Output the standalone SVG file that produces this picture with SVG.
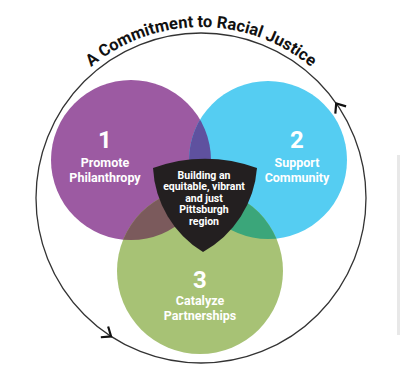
<svg xmlns="http://www.w3.org/2000/svg" width="400" height="378" viewBox="0 0 400 378">
<style>
.lbl{font-family:Roboto,"Open Sans","Liberation Sans",sans-serif;font-weight:700;fill:#fff;text-anchor:middle}
.num{font-size:24px}
.sub{font-size:12.5px}
.mid{font-size:10.5px}
.title{font-family:Roboto,"Open Sans","Liberation Sans",sans-serif;font-weight:700;font-size:16.5px;fill:#111}
.ring{fill:none;stroke:#333;stroke-width:1.3}
</style>
<defs>
<clipPath id="cP"><circle cx="131" cy="160" r="80"/></clipPath>
<clipPath id="cB"><circle cx="268" cy="160" r="79"/></clipPath>
<marker id="chev" markerUnits="userSpaceOnUse" markerWidth="16" markerHeight="16" viewBox="-10 -8 12 16" refX="0" refY="0" orient="auto" overflow="visible">
<path d="M-8,-6.5 L0,0 L-8,6.5" fill="none" stroke="#111" stroke-width="2.2"/>
</marker>
<path id="tp" d="M30,198 A171,171 0 0 1 372,198"/>
</defs>
<rect width="400" height="378" fill="#fff"/>
<rect x="397" y="155" width="3" height="180" fill="#e8e8e8"/>
<g id="connectors">
<circle class="ring" cx="201" cy="198" r="165"/>
<path d="M339.4,108.1 L336.2,103.4" fill="none" stroke="none" marker-end="url(#chev)"/>
<path d="M106.4,333.2 L111.1,336.4" fill="none" stroke="none" marker-end="url(#chev)"/>
</g>
<g id="title">
<text class="title"><textPath href="#tp" startOffset="50%" text-anchor="middle">A Commitment to Racial Justice</textPath></text>
</g>
<g id="node1"><circle cx="131" cy="160" r="80" fill="#9c5aa2"/></g>
<g id="node2"><circle cx="268" cy="160" r="79" fill="#55cdf2"/></g>
<g id="node3"><circle cx="200" cy="271" r="83" fill="#a7c275"/></g>
<g id="overlaps">
<circle cx="268" cy="160" r="79" fill="#5f519f" clip-path="url(#cP)"/>
<circle cx="200" cy="271" r="83" fill="#7b5a5c" clip-path="url(#cP)"/>
<circle cx="200" cy="271" r="83" fill="#3ba67a" clip-path="url(#cB)"/>
</g>
<g id="labels">
<text class="lbl num" x="105" y="148">1</text>
<text class="lbl sub" x="105" y="167">Promote</text>
<text class="lbl sub" x="105" y="182">Philanthropy</text>
<text class="lbl num" x="297" y="148">2</text>
<text class="lbl sub" x="297" y="167">Support</text>
<text class="lbl sub" x="297" y="182">Community</text>
<text class="lbl num" x="200" y="288">3</text>
<text class="lbl sub" x="200" y="305">Catalyze</text>
<text class="lbl sub" x="200" y="320">Partnerships</text>
</g>
<g id="center">
<path d="M153,168 A150,150 0 0 1 257,168 A105,105 0 0 1 203,252 A105,105 0 0 1 153,168 Z" fill="#231f20"/>
<text class="lbl mid" x="204" y="178.5">Building an</text>
<text class="lbl mid" x="204" y="190">equitable, vibrant</text>
<text class="lbl mid" x="204" y="201.5">and just</text>
<text class="lbl mid" x="204" y="213">Pittsburgh</text>
<text class="lbl mid" x="204" y="224.5">region</text>
</g>
</svg>
